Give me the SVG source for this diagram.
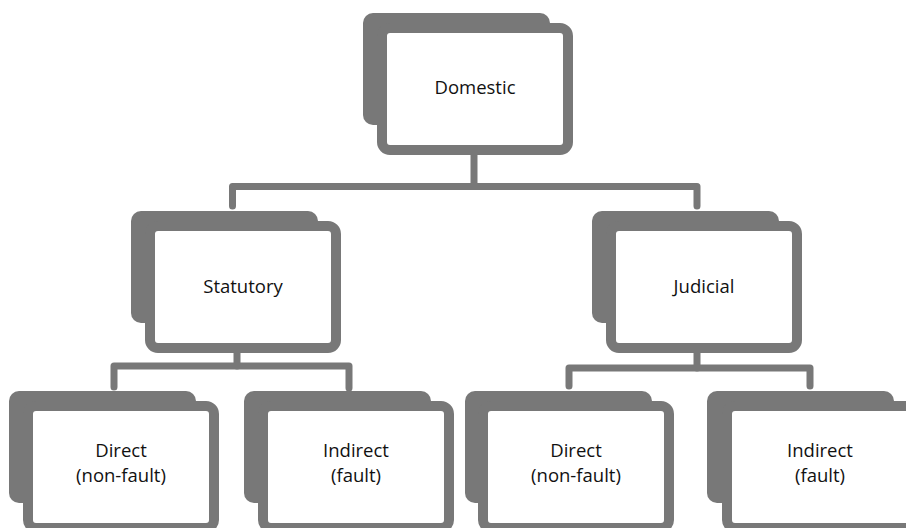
<svg xmlns="http://www.w3.org/2000/svg" width="906" height="528" viewBox="0 0 906 528">
<style>
.back{fill:#787878}
.front{fill:#ffffff;stroke:#787878;stroke-width:10}
.lbl{font-family:"Open Sans","Noto Sans",sans-serif;font-size:18.5px;fill:#111111;text-anchor:middle}
.conn{fill:none;stroke:#787878;stroke-width:7;stroke-linecap:round;stroke-linejoin:round}
</style>
<rect width="906" height="528" fill="#ffffff"/>
<g id="connectors">
<path class="conn" d="M474 155 V186.5"/>
<path class="conn" d="M232.5 206 V186.5 H697 V206"/>
<path class="conn" d="M237 353 V366"/>
<path class="conn" d="M114 387 V366 H349 V388"/>
<path class="conn" d="M697 353 V368"/>
<path class="conn" d="M569 386 V368 H810 V386"/>
</g>
<g id="domestic">
<rect class="back" x="363" y="13" width="187" height="112" rx="10"/>
<rect class="front" x="382" y="28" width="186" height="122" rx="8"/>
<text class="lbl" x="475" y="94">Domestic</text>
</g>
<g id="statutory">
<rect class="back" x="131" y="211" width="187" height="112" rx="10"/>
<rect class="front" x="150" y="226" width="186" height="122" rx="8"/>
<text class="lbl" x="243" y="293">Statutory</text>
</g>
<g id="judicial">
<rect class="back" x="592" y="211" width="187" height="112" rx="10"/>
<rect class="front" x="611" y="226" width="186" height="122" rx="8"/>
<text class="lbl" x="704" y="293">Judicial</text>
</g>
<g id="direct-statutory">
<rect class="back" x="9" y="391" width="187" height="112" rx="10"/>
<rect class="front" x="28" y="406" width="186" height="122" rx="8"/>
<text class="lbl" x="121" y="457">Direct</text>
<text class="lbl" x="121" y="482">(non-fault)</text>
</g>
<g id="indirect-statutory">
<rect class="back" x="244" y="391" width="187" height="112" rx="10"/>
<rect class="front" x="263" y="406" width="186" height="122" rx="8"/>
<text class="lbl" x="356" y="457">Indirect</text>
<text class="lbl" x="356" y="482">(fault)</text>
</g>
<g id="direct-judicial">
<rect class="back" x="465" y="391" width="187" height="112" rx="10"/>
<rect class="front" x="483" y="406" width="186" height="122" rx="8"/>
<text class="lbl" x="576" y="457">Direct</text>
<text class="lbl" x="576" y="482">(non-fault)</text>
</g>
<g id="indirect-judicial">
<rect class="back" x="707" y="391" width="187" height="112" rx="10"/>
<rect class="front" x="727" y="406" width="186" height="122" rx="8"/>
<text class="lbl" x="820" y="457">Indirect</text>
<text class="lbl" x="820" y="482">(fault)</text>
</g>
</svg>
